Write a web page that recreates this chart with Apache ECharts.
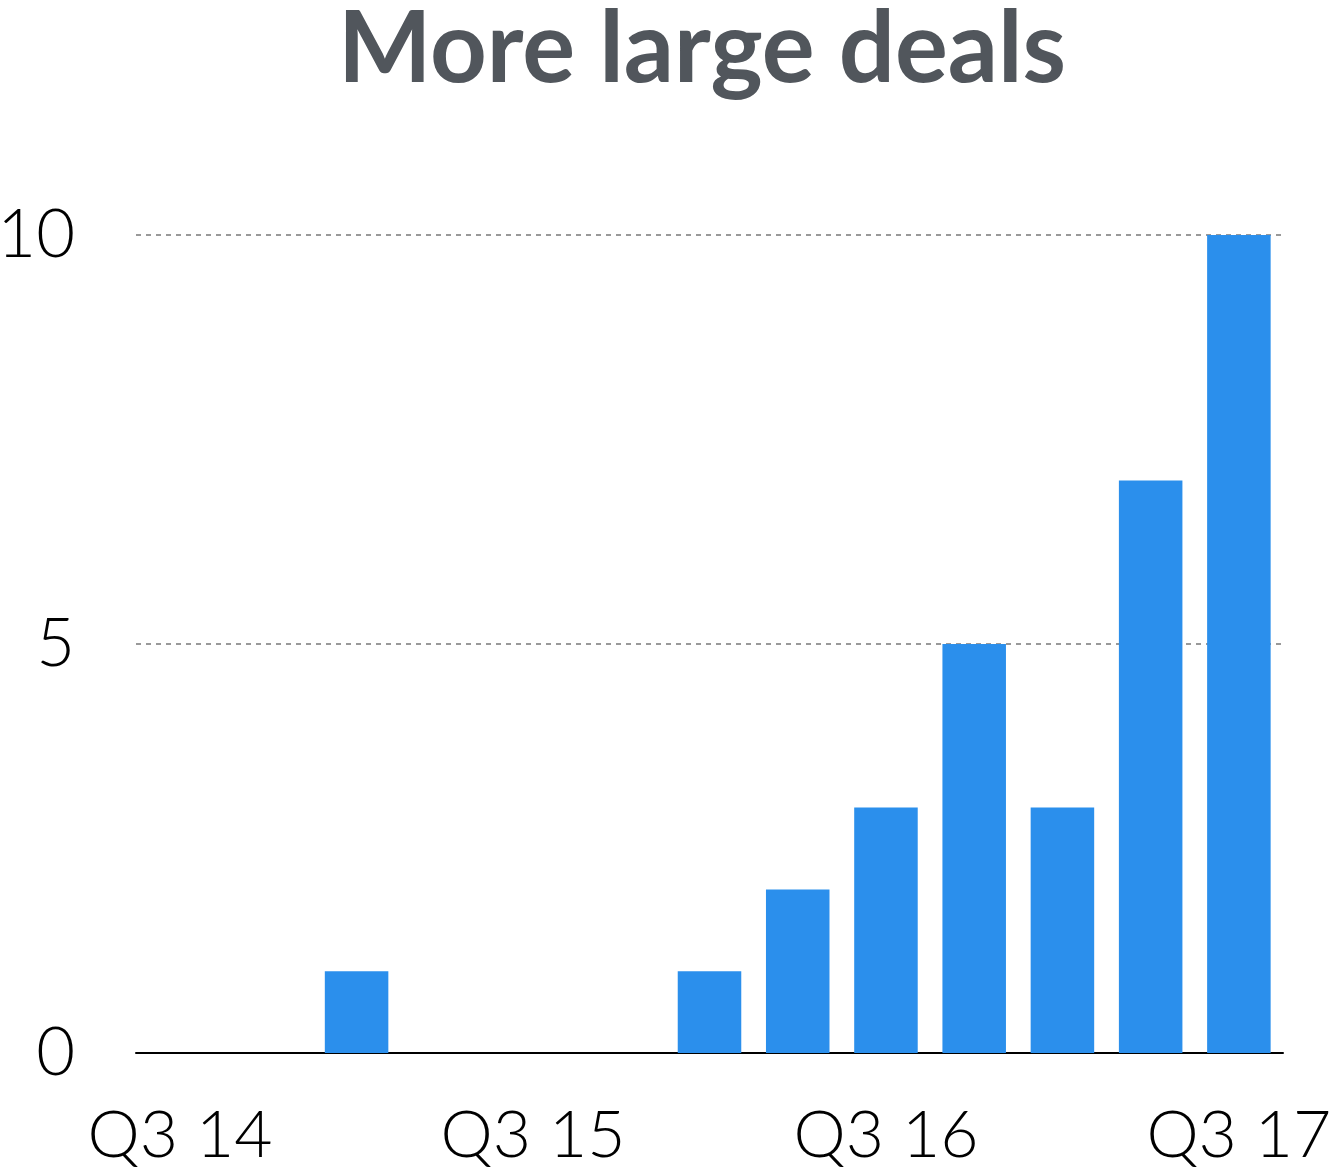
<!DOCTYPE html>
<html>
<head>
<meta charset="utf-8">
<script src="https://cdn.jsdelivr.net/npm/echarts@6/dist/echarts.min.js"></script>
<style>
  html, body { margin: 0; padding: 0; background: #fff; }
  #chart { width: 1332px; height: 1173px; }
</style>
</head>
<body>
<div id="chart"></div>
<script>
// Quarterly count of large deals, Q3 2014 through Q3 2017
const quarters = ['Q3 14', 'Q4 14', 'Q1 15', 'Q2 15', 'Q3 15', 'Q4 15', 'Q1 16',
                  'Q2 16', 'Q3 16', 'Q4 16', 'Q1 17', 'Q2 17', 'Q3 17'];
const largeDeals = [0, 0, 1, 0, 0, 0, 1, 2, 3, 5, 3, 7, 10];
const yTicks = [0, 5, 10];

const chart = echarts.init(document.getElementById('chart'), null, { renderer: 'canvas' });

chart.setOption({
  animation: false,
  backgroundColor: '#ffffff',
  title: {
    text: 'More large deals',
    left: 697,
    textAlign: 'center',
    top: -4,
    textStyle: {
      fontFamily: 'Lato',
      fontWeight: 'bold',
      fontSize: 99,
      color: '#51565c'
    }
  },
  grid: {
    left: 136, right: 49, top: 235, bottom: 120,
    containLabel: false,
    outerBoundsMode: 'none'
  },
  xAxis: {
    type: 'category',
    data: quarters,
    axisLine: { show: true, lineStyle: { color: '#000', width: 2 } },
    axisTick: { show: false },
    axisLabel: {
      interval: 3,
      margin: 50,
      fontFamily: 'Lato',
      fontWeight: 300,
      fontSize: 66,
      color: '#000'
    },
    splitLine: { show: false }
  },
  yAxis: {
    type: 'value',
    min: yTicks[0],
    max: yTicks[yTicks.length - 1],
    interval: yTicks[1] - yTicks[0],
    axisLine: { show: false },
    axisTick: { show: false },
    axisLabel: {
      margin: 61,
      fontFamily: 'Lato',
      fontWeight: 300,
      fontSize: 67,
      color: '#000'
    },
    splitLine: {
      show: true,
      lineStyle: { color: '#999', width: 2, type: [5, 5] }
    }
  },
  series: [{
    type: 'bar',
    data: largeDeals,
    barCategoryGap: '28%',
    itemStyle: { color: '#2b8fec' }
  }]
});
</script>
</body>
</html>
